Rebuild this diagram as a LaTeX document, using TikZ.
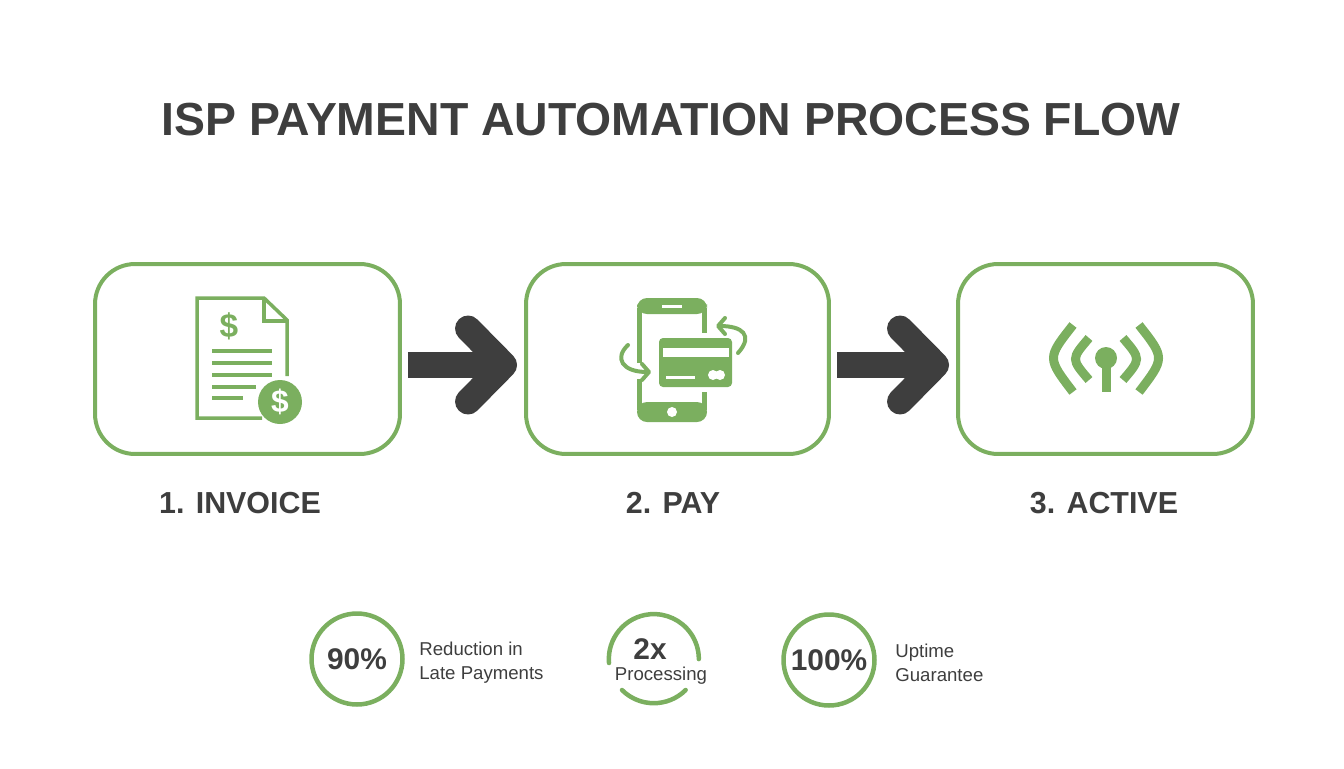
\documentclass[tikz,border=0pt]{standalone}
\usepackage{fontspec}
\setmainfont{Liberation Sans}
\definecolor{leafgreen}{HTML}{7BAF5F}
\definecolor{inkgray}{HTML}{3E3E3E}
\usetikzlibrary{arrows.meta}
\newcommand{\pxfont}[1]{\fontsize{#1}{#1}\selectfont}
\tikzset{stage/.style={draw=leafgreen, line width=.08cm, rounded corners=.8cm, inner sep=+0pt, minimum height=3.8cm}}
\tikzset{flow/.style={-{Straight Barb[length=.72cm, width=1.46cm, line width=.52cm, round]}, color=inkgray, line width=.52cm}}
\tikzset{caption/.style={text=inkgray, font=\pxfont{17.3pt}\bfseries}}
\tikzset{ring/.style={circle, draw=leafgreen, line width=.09cm, minimum size=1.82cm, inner sep=+0pt, text=inkgray, font=\pxfont{17pt}\bfseries}}
\tikzset{gap/.style={draw=leafgreen, line width=.09cm, line cap=round}}
\tikzset{note/.style={text=inkgray, align=left, anchor=west, inner sep=+0pt, font=\pxfont{10.6pt}}}
\tikzset{iconline/.style={draw=leafgreen, line width=.07cm}}
\tikzset{iconarrow/.style={iconline, line width=.08cm, line cap=round, -{Straight Barb[length=.14cm, width=.32cm, line width=.08cm, round]}}}
\tikzset{wave/.style={draw=leafgreen, line width=.18cm}}

\begin{document}
\begin{tikzpicture}[x=.02cm, y=-.02cm]
    \useasboundingbox (0,0) rectangle (1344,768);

    \node[text=inkgray, font=\pxfont{26.4pt}\bfseries] (title) at (671,120) {ISP PAYMENT AUTOMATION PROCESS FLOW};

    \node[stage, minimum width=6.1cm] (invoice) at (247.5,359) {};
    \node[stage, minimum width=6.06cm] (pay) at (677.5,359) {};
    \node[stage, minimum width=5.9cm] (active) at (1105.5,359) {};

    \node[caption] (invoicetext) at (240,503) {1. INVOICE};
    \node[caption] (paytext) at (673,503) {2. PAY};
    \node[caption] (activetext) at (1104,503) {3. ACTIVE};

    \draw[flow, shorten <=.12cm, shorten >=.14cm] ([yshift=-.12cm]invoice.east) -- ([yshift=-.12cm]pay.west);
    \draw[flow, shorten <=.12cm, shorten >=.14cm] ([yshift=-.12cm]pay.east) -- ([yshift=-.12cm]active.west);

    % invoice icon
    \draw[iconline] (287,376) -- (287,320) -- (264,298) -- (197,298) -- (197,418) -- (262,418);
    \draw[iconline] (264,298) -- (264,321) -- (287,321);
    \foreach \y/\e in {351/272,363/272,375/272,387/256,398/243} {
            \draw[iconline] (212,\y) -- (\e,\y);
        }
    \node[text=leafgreen, font=\pxfont{19pt}\bfseries, inner sep=+0pt] (docsign) at (229,326) {\$};
    \node[circle, fill=leafgreen, minimum size=.88cm, inner sep=+0pt, text=white, font=\pxfont{18pt}\bfseries] (coin) at (280,402) {\$};

    % phone icon
    \fill[leafgreen, rounded corners=.2cm] (637,314) -- (637,298) -- (707,298) -- (707,314) -- cycle;
    \fill[leafgreen, rounded corners=.2cm] (637,402) -- (637,422) -- (707,422) -- (707,402) -- cycle;
    \fill[leafgreen] (637,308) rectangle (642,363);
    \fill[leafgreen] (637,379) rectangle (642,410);
    \fill[leafgreen] (702,308) rectangle (707,333);
    \fill[leafgreen] (702,392) rectangle (707,410);
    \draw[white, line width=.06cm] (662,306) -- (682,306);
    \fill[white] (672,412) circle[radius=5];
    \fill[leafgreen, rounded corners=.08cm] (659,338) rectangle (732,387);
    \fill[white] (663,348) rectangle (729,357);
    \draw[white, line width=.06cm] (666,377) -- (695,377);
    \fill[white] (713,375) circle[radius=5] (720,375) circle[radius=5];
    \draw[iconarrow] (628,345) .. controls (614,358) and (622,372) .. (651,372);
    \draw[iconarrow] (738,353) .. controls (754,335) and (742,326) .. (716,326);

    % signal icon
    \fill[leafgreen] (1106,358) circle[radius=11];
    \fill[leafgreen] (1101.5,358) rectangle (1110.5,392);
    \draw[wave] (1089,338) .. controls (1071,359) .. (1089,380);
    \draw[wave] (1123,338) .. controls (1141,359) .. (1123,380);
    \draw[wave] (1073,325) .. controls (1047,358) .. (1073,392);
    \draw[wave] (1139,325) .. controls (1165,358) .. (1139,392);

    \node[ring] (late) at (357,659) {90\%};
    \node[note] (latetext) at (419,663) {Reduction in\\[3.2pt]Late Payments};

    \coordinate (speed) at (653,659);
    \draw[gap] (609,663) arc[radius=45, start angle=175, end angle=360];
    \draw[gap] (622,690) arc[radius=45, start angle=135, end angle=45];
    \node[text=inkgray, font=\pxfont{17pt}\bfseries] (speedvalue) at (650,649) {2x};
    \node[text=inkgray, font=\pxfont{10.6pt}] (speedtext) at (661,676) {Processing};

    \node[ring] (uptime) at (829,660) {100\%};
    \node[note] (uptimetext) at (895,663) {Uptime\\[3.2pt]Guarantee};
\end{tikzpicture}
\end{document}
